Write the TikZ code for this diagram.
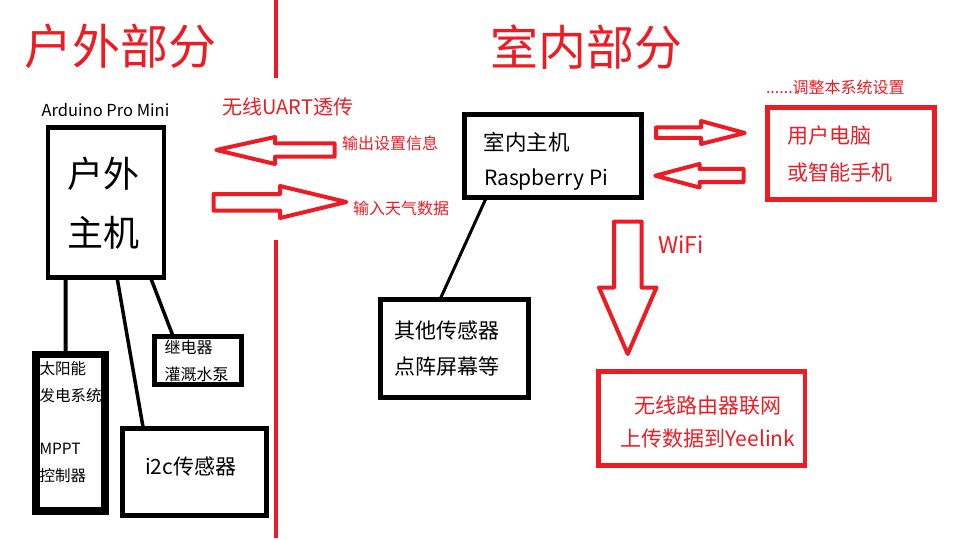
\documentclass[tikz,border=0pt]{standalone}
\usepackage{fontspec}
\setmainfont{Noto Sans CJK SC}
\usetikzlibrary{calc}
\definecolor{pred}{HTML}{ED1C24}
\newcommand{\fsz}[1]{\fontsize{#1}{#1}\selectfont}
\begin{document}
\begin{tikzpicture}[x=1pt,y=-1pt,
  box/.style={draw=black, line width=#1, inner sep=0pt, outer sep=0pt},
  box/.default=5pt,
  rbox/.style={draw=pred, line width=#1, inner sep=0pt, outer sep=0pt},
  rbox/.default=5pt,
  txt/.style={inner sep=0pt, outer sep=0pt, text=black},
  rtxt/.style={inner sep=0pt, outer sep=0pt, text=pred},
  blockarrow/.style={draw=pred, line width=4pt, line join=round},
  conn/.style={draw=black, line width=#1},
  divider/.style={draw=pred, line width=4pt}
]
\useasboundingbox (0,0) rectangle (968,540);
\fill[white] (0,0) rectangle (968,540);

% divider
\draw[divider] (276,0) -- (276,78.3);
\draw[divider] (276,240) -- (276,538);

% titles
\node[rtxt, font=\fsz{48}] (t1) at (120.5,46.5) {户外部分};
\node[rtxt, font=\fsz{48}] (t2) at (586.3,47.5) {室内部分};

% outdoor part
\node[txt, font=\fsz{16.5}] (ard) at (105.5,110) {Arduino Pro Mini};
\node[rtxt, font=\fsz{20}] (uart) at (288,107) {无线UART透传};
\node[box=4.5pt, minimum width=116pt, minimum height=150pt] (out) at (106,202.5) {};
\node[txt, font=\fsz{36}] (outa) at (103,174) {户外};
\node[txt, font=\fsz{36}] (outb) at (103,232.5) {主机};

\node[box=7.5pt, minimum width=68.8pt, minimum height=156.1pt] (solar) at (70.6,432.75) {};
\node[txt, font=\fsz{15.5}, anchor=west] (s1) at (39.5,369) {太阳能};
\node[txt, font=\fsz{15.5}, anchor=west] (s2) at (39.5,395.8) {发电系统};
\node[txt, font=\fsz{15.5}, anchor=west] (s3) at (39.5,449) {MPPT};
\node[txt, font=\fsz{15.5}, anchor=west] (s4) at (39.5,476) {控制器};

\node[box=5pt, minimum width=87.5pt, minimum height=47.4pt] (relay) at (197.95,360.5) {};
\node[txt, font=\fsz{16}, anchor=west] (r1) at (164.5,347.5) {继电器};
\node[txt, font=\fsz{16}, anchor=west] (r2) at (164.5,374) {灌溉水泵};

\node[box=5pt, minimum width=144.2pt, minimum height=86.7pt] (i2c) at (194.6,471.85) {};
\node[txt, font=\fsz{21}, anchor=west] (i2ct) at (145,466) {i2c传感器};

\draw[conn=4pt] ($(out.south west)!0.151!(out.south east)$) -- ($(solar.north west)!0.426!(solar.north east)$);
\draw[conn=3.5pt] ($(out.south west)!0.595!(out.south east)$) -- ($(i2c.north west)!0.144!(i2c.north east)$);
\draw[conn=3.5pt] ($(out.south west)!0.884!(out.south east)$) -- ($(relay.north west)!0.218!(relay.north east)$);

% UART arrows
\draw[blockarrow] (216.3,150) -- (275,137) -- (275,143.3) -- (334.5,143.3) -- (334.5,156.7) -- (275,156.7) -- (275,164) -- cycle;
\node[rtxt, font=\fsz{16}, anchor=west] (outinfo) at (342,143) {输出设置信息};
\draw[blockarrow] (213.5,194) -- (280,194) -- (280,186) -- (346.3,202) -- (280,218) -- (280,210.5) -- (213.5,210.5) -- cycle;
\node[rtxt, font=\fsz{16}, anchor=west] (ininfo) at (353,208) {输入天气数据};

% indoor part
\node[box=5pt, minimum width=177.5pt, minimum height=83pt] (in) at (552.75,156) {};
\node[txt, font=\fsz{21.5}, anchor=west] (ina) at (483.5,142.5) {室内主机};
\node[txt, font=\fsz{21}, anchor=west] (inb) at (484,179.5) {Raspberry Pi};

\node[box=5pt, minimum width=148pt, minimum height=98pt] (other) at (454.5,348.5) {};
\node[txt, font=\fsz{21}, anchor=west] (o1) at (394,330) {其他传感器};
\node[txt, font=\fsz{21}, anchor=west] (o2) at (394,366) {点阵屏幕等};
\draw[conn=3pt] ($(in.south west)!0.126!(in.south east)$) -- ($(other.north west)!0.402!(other.north east)$);

\node[rtxt, font=\fsz{16}, anchor=west] (adj) at (766,87) {......调整本系统设置};
\node[rbox=5pt, minimum width=166.5pt, minimum height=91.5pt] (pc) at (850.75,153.25) {};
\node[rtxt, font=\fsz{21}, anchor=west] (pc1) at (787,136) {用户电脑};
\node[rtxt, font=\fsz{21}, anchor=west] (pc2) at (787,172) {或智能手机};

\draw[blockarrow] (656,127.5) -- (701,127.5) -- (701,121) -- (744.7,133) -- (701,144) -- (701,138) -- (656,138) -- cycle;
\draw[blockarrow] (655.3,175.7) -- (699.5,164) -- (699.5,169) -- (743.5,169) -- (743.5,182) -- (699.5,182) -- (699.5,187.5) -- cycle;

\draw[blockarrow] (614,221.7) -- (641.7,221.7) -- (641.7,287.5) -- (656.5,287.5) -- (627.7,354) -- (599,287.5) -- (614,287.5) -- cycle;
\node[rtxt, font=\fsz{23}] (wifi) at (681,245) {WiFi};

\node[rbox=4.5pt, minimum width=206.7pt, minimum height=94pt] (router) at (701.65,418.5) {};
\node[rtxt, font=\fsz{21}] (ro1) at (708.3,406) {无线路由器联网};
\node[rtxt, font=\fsz{21}] (ro2) at (708,439) {上传数据到Yeelink};
\end{tikzpicture}
\end{document}
